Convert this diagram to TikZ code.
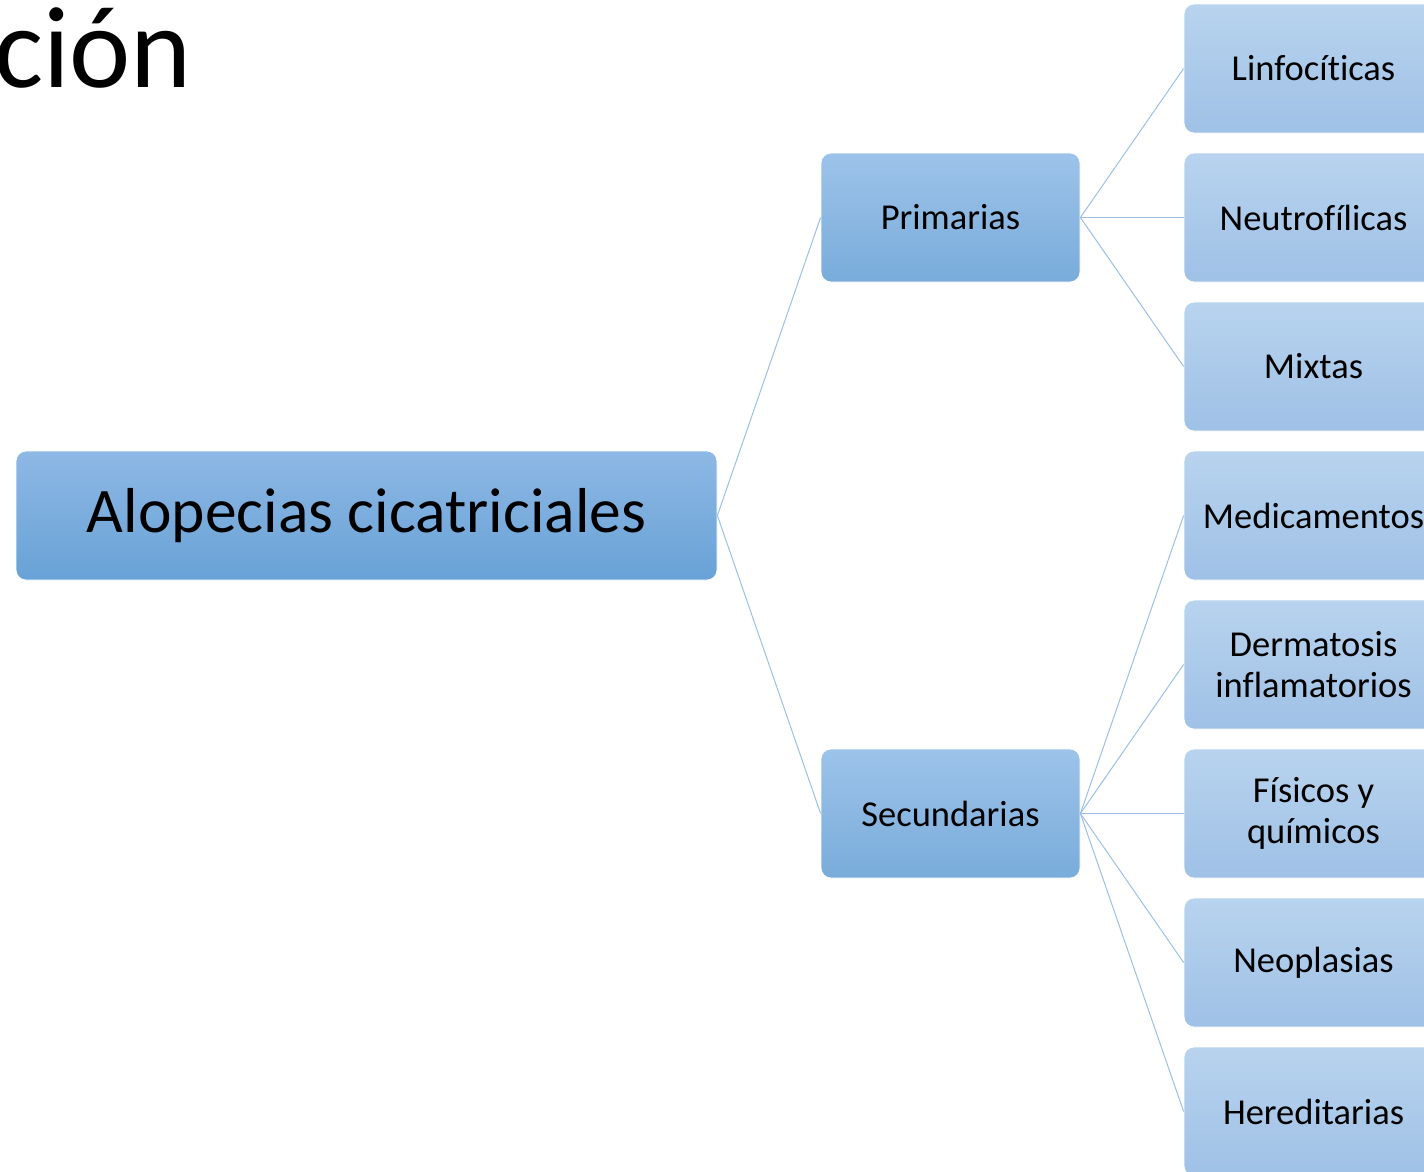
\documentclass[tikz,border=0pt]{standalone}
\usepackage{fontspec}
\setmainfont{Carlito}[Ligatures={NoCommon,NoRare,NoContextual}]
\definecolor{lineblue}{HTML}{9DBFE6}
\definecolor{mainTop}{HTML}{8EB8E5}
\definecolor{mainBot}{HTML}{68A2D6}
\definecolor{midTop}{HTML}{9DC3EA}
\definecolor{midBot}{HTML}{79ACDA}
\definecolor{leafTop}{HTML}{B8D3EE}
\definecolor{leafBot}{HTML}{9FC1E6}
\tikzset{
  box/.style={rectangle, rounded corners=10pt, draw=white, line width=0.8pt, inner sep=0pt, align=center, text=black},
  mainbox/.style={box, minimum width=701pt, minimum height=129pt, top color=mainTop, bottom color=mainBot, font=\fontsize{63.5}{70}\selectfont},
  midbox/.style={box, minimum width=259pt, minimum height=129pt, top color=midTop, bottom color=midBot, font=\fontsize{36.5}{41}\selectfont},
  leafbox/.style={box, minimum width=259pt, minimum height=129pt, top color=leafTop, bottom color=leafBot, font=\fontsize{36.5}{41}\selectfont},
  link/.style={draw=lineblue, line width=1pt}
}
\begin{document}
\begin{tikzpicture}[x=1pt,y=-1pt]
\useasboundingbox (0,0) rectangle (1424,1171);
\clip (0,0) rectangle (1424,1171);
\node[anchor=base west, inner sep=0pt, font=\fontsize{116}{120}\selectfont] (title) at (-6,87) {ción};
\node[mainbox] (main) at (366.5,515.5) {Alopecias cicatriciales};
\node[midbox] (prim) at (950.5,217.5) {Primarias};
\node[midbox] (sec) at (950.5,813.5) {Secundarias};
\node[leafbox] (l1) at (1313.5,68.5) {Linfocíticas};
\node[leafbox] (l2) at (1313.5,217.5) {Neutrofílicas};
\node[leafbox] (l3) at (1313.5,366.5) {Mixtas};
\node[leafbox] (l4) at (1313.5,515.5) {Medicamentos};
\node[leafbox] (l5) at (1313.5,664.5) {Dermatosis\\inflamatorios};
\node[leafbox] (l6) at (1313.5,813.5) {Físicos y\\químicos};
\node[leafbox] (l7) at (1313.5,962.5) {Neoplasias};
\node[leafbox] (l8) at (1313.5,1111.5) {Hereditarias};
\draw[link] (main.east) -- (prim.west);
\draw[link] (main.east) -- (sec.west);
\foreach \n in {l1,l2,l3} \draw[link] (prim.east) -- (\n.west);
\foreach \n in {l4,l5,l6,l7,l8} \draw[link] (sec.east) -- (\n.west);
\end{tikzpicture}
\end{document}
